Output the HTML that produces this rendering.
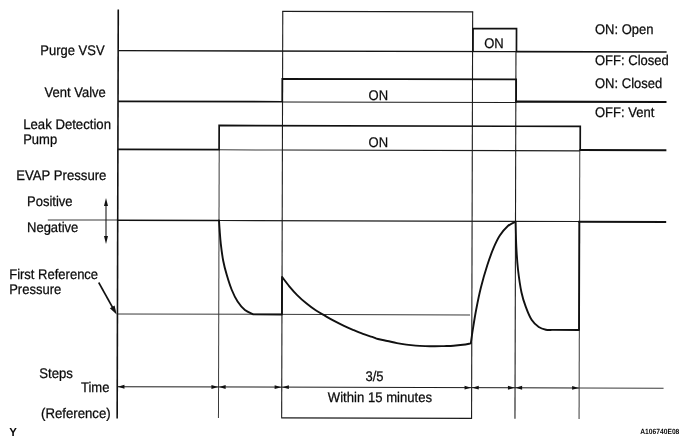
<!DOCTYPE html>
<html>
<head>
<meta charset="utf-8">
<title>EVAP system timing chart</title>
<style>
html,body{margin:0;padding:0;background:#fff;}
body{width:688px;height:445px;overflow:hidden;}
svg{display:block;will-change:transform;}
text{text-rendering:geometricPrecision;font-family:"Liberation Sans",sans-serif;font-size:14px;fill:#0a0a0a;stroke:#0a0a0a;stroke-width:0.25;}
.thick{stroke:#111;stroke-width:1.7;fill:none;stroke-linejoin:miter;stroke-linecap:butt;}
.heavy{stroke:#111;stroke-width:2.1;fill:none;stroke-linecap:butt;}
.med{stroke:#151515;stroke-width:1.4;fill:none;}
.thin{stroke:#1c1c1c;stroke-width:1.1;fill:none;}
.lite{stroke:#3a3a3a;stroke-width:1;fill:none;}
.curve{stroke:#111;stroke-width:1.9;fill:none;stroke-linejoin:round;}
.ah{fill:#111;stroke:none;}
</style>
</head>
<body>
<svg width="688" height="445" viewBox="0 0 688 445">
<rect x="0" y="0" width="688" height="445" fill="#ffffff"/>

<g transform="rotate(0.155 344 222)">
<!-- thin vertical guide lines -->
<path class="lite" d="M219.0 150.0V418.4"/>
<path class="thin" d="M282.2 11.5V418.0"/>
<path class="thin" d="M472.1 11.5V418.0"/>
<path class="thin" d="M515.5 51.2V418.4"/>
<path class="lite" d="M579.6 150.0V418.4"/>
<!-- box top / bottom -->
<path class="thin" d="M281.7 11.5H472.6"/>
<path class="thin" d="M281.7 418.0H472.6"/>

<!-- thin horizontal continuations -->
<path class="thin" d="M282.2 102.10000000000001H515.5"/>
<path class="lite" d="M219.0 150.2H282.2"/>
<path class="thin" d="M282.2 150.2H579.6"/>
<path class="lite" d="M117.7 314.6H470.3"/>
<path class="thin" d="M117.7 387.3H579.6" stroke-width="1.1"/>
<path class="lite" d="M579.6 387.3H664"/>
<path class="lite" d="M47.8 220.70000000000002H117.7"/>
<path class="thin" d="M219.0 220.9H579.6"/>

<!-- main axis -->
<path d="M117.7 10V419" stroke="#111" stroke-width="1.6" fill="none"/>

<!-- Purge VSV -->
<path class="med" d="M117.7 51.2H515.5"/>
<path d="M515.5 51.2H666.2" stroke="#111" stroke-width="1.6" fill="none"/>
<path class="thick" d="M472.5 51.2V28.2H516.0V51.2"/>

<!-- Vent Valve -->
<path class="thick" d="M117.7 101.9H281.9V79.0H515.8V102.2"/>
<path class="heavy" d="M515.0 101.2H666.2"/>

<!-- Leak Detection Pump -->
<path class="thick" d="M117.7 150.0H218.9V125.8H580.0V150.0"/>
<path class="heavy" d="M579.2 149.4H666.2"/>

<!-- EVAP pressure curve -->
<path d="M117.7 220.9H219.4" stroke="#111" stroke-width="1.5" fill="none"/>
<path class="curve" d="M218.40 220.90 L219.00 220.90 C219.10 222.37 219.31 225.86 219.62 229.74 C219.93 233.61 220.25 238.92 220.86 244.13 C221.47 249.35 222.29 255.81 223.31 261.03 C224.32 266.24 225.53 270.62 226.94 275.42 C228.36 280.21 229.97 285.41 231.78 289.80 C233.59 294.20 235.59 298.38 237.82 301.79 C240.04 305.20 242.52 308.13 245.14 310.27 C247.76 312.40 252.15 313.88 253.55 314.60 H282.20 V277.07 C283.41 278.63 286.99 283.47 289.47 286.45 C291.96 289.42 294.26 292.10 297.10 294.93 C299.94 297.75 303.38 300.83 306.52 303.40 C309.66 305.98 312.78 308.28 315.94 310.38 C319.09 312.47 322.30 314.14 325.45 315.95 C328.61 317.76 331.73 319.57 334.87 321.23 C338.01 322.88 341.13 324.42 344.28 325.90 C347.44 327.37 350.64 328.75 353.79 330.07 C356.95 331.40 360.07 332.72 363.20 333.85 C366.34 334.97 370.09 335.98 372.61 336.82 C375.13 337.67 375.80 338.23 378.32 338.91 C380.83 339.58 384.57 340.21 387.72 340.88 C390.87 341.56 394.08 342.36 397.23 342.96 C400.38 343.55 403.50 344.02 406.63 344.43 C409.77 344.84 412.88 345.16 416.03 345.41 C419.18 345.65 422.39 345.77 425.54 345.88 C428.69 345.99 431.80 346.06 434.94 346.05 C438.07 346.05 441.19 345.92 444.34 345.83 C447.49 345.74 450.69 345.73 453.83 345.50 C456.98 345.28 460.35 344.89 463.23 344.48 C466.11 344.07 469.81 343.29 471.13 343.06 C471.49 340.56 472.40 333.70 473.29 328.05 C474.17 322.40 475.14 315.96 476.44 309.14 C477.73 302.32 479.26 294.47 481.08 287.13 C482.89 279.79 485.23 271.67 487.32 265.11 C489.40 258.56 491.48 252.78 493.57 247.80 C495.66 242.81 497.50 238.85 499.84 235.18 C502.18 231.51 504.98 228.11 507.61 225.76 C510.24 223.40 514.27 221.82 515.60 221.04 C515.73 225.20 515.94 238.03 516.37 246.03 C516.79 254.03 517.24 261.36 518.13 269.03 C519.02 276.69 520.37 285.79 521.69 292.02 C523.01 298.25 524.33 301.86 526.03 306.41 C527.72 310.95 529.70 315.95 531.86 319.29 C534.03 322.64 536.65 324.83 539.03 326.47 C541.42 328.12 543.98 328.68 546.19 329.15 C548.40 329.63 551.27 329.31 552.29 329.34 H579.30 V220.40"/>
<path class="heavy" d="M578.4 221.15H666.2" stroke-width="1.9"/>

<!-- time axis arrowheads -->
<g class="ah">
<path d="M118.30 387.30 L124.90 385.35 L124.90 389.25Z"/>
<path d="M218.50 387.30 L211.90 385.35 L211.90 389.25Z"/>
<path d="M219.50 387.30 L226.10 385.35 L226.10 389.25Z"/>
<path d="M281.70 387.30 L275.10 385.35 L275.10 389.25Z"/>
<path d="M282.70 387.30 L289.30 385.35 L289.30 389.25Z"/>
<path d="M471.60 387.30 L465.00 385.35 L465.00 389.25Z"/>
<path d="M472.60 387.30 L479.20 385.35 L479.20 389.25Z"/>
<path d="M515.00 387.30 L508.40 385.35 L508.40 389.25Z"/>
<path d="M516.00 387.30 L522.60 385.35 L522.60 389.25Z"/>
<path d="M579.20 387.30 L572.60 385.35 L572.60 389.25Z"/>
</g>
</g>

<!-- Positive / Negative arrows -->
<path class="thin" d="M106 204V238"/>
<path class="ah" d="M106 198L104 206H108Z"/>
<path class="ah" d="M106 244L104 236H108Z"/>

<!-- First reference pointer -->
<path d="M98.7 282.5L114 310" stroke="#111" stroke-width="1.6" fill="none"/>
<path class="ah" d="M116.6 314.4L109.9 308.2L114.6 305.6Z"/>

<!-- labels -->
<text transform="translate(40.3 55) scale(0.929 1)">Purge VSV</text>
<text transform="translate(44.6 97) scale(0.929 1)">Vent Valve</text>
<text transform="translate(23.2 129) scale(0.94 1)">Leak Detection</text>
<text transform="translate(23.2 144) scale(0.929 1)">Pump</text>
<text transform="translate(16.2 180) scale(0.94 1)">EVAP Pressure</text>
<text transform="translate(27 206) scale(0.929 1)">Positive</text>
<text transform="translate(27 232) scale(0.929 1)">Negative</text>
<text transform="translate(9.2 279) scale(0.929 1)">First Reference</text>
<text transform="translate(9.2 294) scale(0.929 1)">Pressure</text>
<text transform="translate(39.3 378) scale(0.94 1)">Steps</text>
<text transform="translate(81 392) scale(0.929 1)">Time</text>
<text transform="translate(41 418) scale(0.942 1)">(Reference)</text>
<text transform="translate(484.2 48) scale(0.929 1)">ON</text>
<text transform="translate(368.6 100) scale(0.929 1)">ON</text>
<text transform="translate(368.6 147) scale(0.929 1)">ON</text>
<text transform="translate(595 34) scale(0.929 1)">ON: Open</text>
<text transform="translate(595 65) scale(0.929 1)">OFF: Closed</text>
<text transform="translate(595 88) scale(0.929 1)">ON: Closed</text>
<text transform="translate(595 117) scale(0.929 1)">OFF: Vent</text>
<text transform="translate(365.5 381) scale(0.929 1)">3/5</text>
<text transform="translate(327.8 402) scale(.937 1)">Within 15 minutes</text>
<text transform="translate(9.2 436) scale(.97 1)" style="font-size:11.8px;font-weight:bold;stroke:none;">Y</text>
<text transform="translate(640.2 434) scale(.894 1)" style="font-size:7.5px;font-weight:bold;stroke:none;">A106740E08</text>
</svg>
</body>
</html>
